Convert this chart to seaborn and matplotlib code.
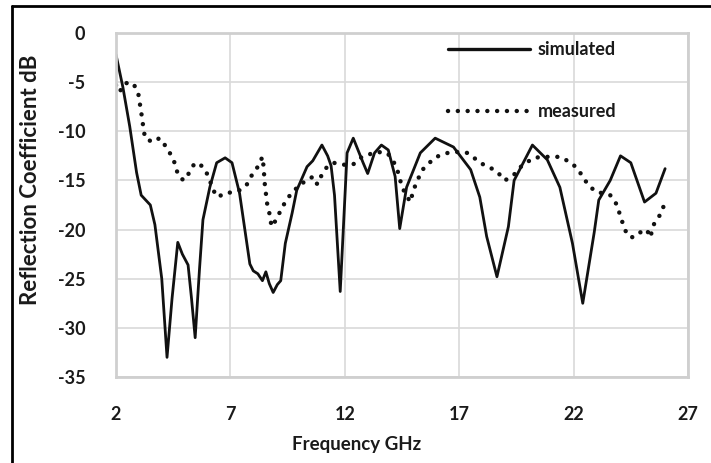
import numpy as np
import pandas as pd
import matplotlib
matplotlib.use("Agg")
import matplotlib.pyplot as plt
from matplotlib.lines import Line2D
import seaborn as sns

# ---- data ----
sim_freq = [2.0, 2.3, 2.6, 2.9, 3.1, 3.3, 3.5, 3.7, 4.0, 4.23, 4.45, 4.7, 4.9, 5.15,
            5.3, 5.46, 5.65, 5.8, 6.1, 6.4, 6.77, 7.07, 7.4, 7.6, 7.85, 8.0, 8.2, 8.4,
            8.55, 8.7, 8.87, 9.05, 9.2, 9.4, 9.7, 9.9, 10.35, 10.6, 11.0, 11.25, 11.4,
            11.55, 11.8, 12.1, 12.37, 12.8, 13.0, 13.3, 13.6, 13.9, 14.2, 14.4, 14.7,
            15.3, 15.95, 16.75, 17.5, 17.9, 18.2, 18.65, 19.15, 19.4, 20.2, 20.85,
            21.4, 21.95, 22.4, 22.9, 23.1, 23.6, 24.05, 24.5, 25.1, 25.6, 26.0]
sim_db = [-2.2, -5.5, -9.5, -14.2, -16.5, -17.0, -17.5, -19.5, -25.0, -33.0, -27.0,
          -21.3, -22.5, -23.6, -27.0, -31.0, -24.0, -19.0, -15.7, -13.2, -12.7, -13.2,
          -16.3, -19.5, -23.5, -24.2, -24.5, -25.2, -24.3, -25.5, -26.4, -25.6, -25.2,
          -21.4, -18.3, -16.0, -13.6, -13.0, -11.4, -12.5, -13.5, -16.5, -26.3, -12.2,
          -10.7, -13.2, -14.3, -12.2, -11.4, -11.9, -14.6, -19.9, -15.7, -12.2, -10.7,
          -11.6, -13.9, -16.7, -20.7, -24.8, -19.7, -15.0, -11.4, -12.9, -15.7, -21.4,
          -27.5, -20.3, -17.0, -15.0, -12.5, -13.2, -17.2, -16.3, -13.8]

meas_freq = [2.0, 2.15, 2.4, 2.75, 2.97, 3.05, 3.13, 3.2, 3.27, 3.6, 3.9, 4.2, 4.4,
             4.6, 4.7, 4.95, 5.15, 5.4, 5.6, 5.9, 6.1, 6.25, 6.45, 6.75, 7.1, 7.4, 7.7,
             7.9, 8.2, 8.4, 8.45, 8.5, 8.6, 8.7, 8.8, 9.0, 9.25, 9.5, 9.8, 10.1, 10.4,
             10.6, 10.8, 11.0, 11.2, 11.5, 11.9, 12.35, 12.75, 13.0, 13.4, 13.85, 14.1,
             14.35, 14.5, 14.86, 15.0, 15.17, 15.4, 15.7, 16.0, 16.5, 16.9, 17.35, 17.6,
             17.9, 18.35, 18.65, 19.0, 19.4, 19.7, 20.0, 20.25, 20.7, 21.1, 21.4, 21.9,
             22.2, 22.45, 22.65, 23.0, 23.3, 23.6, 23.9, 24.05, 24.2, 24.35, 24.6, 24.9,
             25.2, 25.35, 25.5, 25.7, 25.9, 25.95]
meas_db = [-5.3, -6.0, -5.1, -5.1, -6.1, -7.3, -8.5, -9.7, -10.7, -11.1, -10.7, -11.6,
           -12.4, -13.4, -14.4, -15.0, -14.4, -13.4, -13.2, -13.9, -15.0, -16.0, -16.7,
           -16.3, -16.2, -16.0, -15.5, -14.6, -13.6, -12.6, -13.6, -15.3, -17.3, -18.3,
           -19.7, -19.0, -17.8, -16.8, -16.0, -15.3, -15.0, -14.6, -15.4, -14.4, -13.7,
           -13.2, -13.4, -13.4, -12.6, -12.4, -12.1, -12.2, -12.9, -14.3, -15.7, -17.2,
           -16.0, -15.0, -13.9, -13.2, -12.6, -12.2, -12.1, -12.2, -12.6, -13.2, -13.7,
           -14.1, -15.0, -14.4, -13.6, -13.1, -12.7, -12.6, -12.6, -12.6, -13.2, -13.9,
           -14.8, -15.5, -16.2, -16.3, -16.5, -17.5, -18.7, -19.7, -20.6, -20.8, -20.3,
           -20.0, -20.8, -19.5, -18.8, -18.0, -17.3]

x_ticks = [2, 7, 12, 17, 22, 27]
y_ticks = [0, -5, -10, -15, -20, -25, -30, -35]
series_labels = ["simulated", "measured"]

sns.set_theme(style="white")
plt.rcParams["font.family"] = ["Lato", "DejaVu Sans"]
plt.rcParams["font.weight"] = "bold"

fig = plt.figure(figsize=(7.11, 4.63), dpi=100)
ax = fig.add_axes([116 / 711, 1 - 377 / 463, (688 - 116) / 711, (377 - 33) / 463])

sim_df = pd.DataFrame({"freq": sim_freq, "db": sim_db})
meas_df = pd.DataFrame({"freq": meas_freq, "db": meas_db})

sns.lineplot(data=sim_df, x="freq", y="db", ax=ax, color="#111111", lw=2.0,
             sort=False, estimator=None, solid_joinstyle="round")
sns.lineplot(data=meas_df, x="freq", y="db", ax=ax, color="#111111", lw=3.2,
             sort=False, estimator=None, linestyle=(0, (0.01, 2.2)),
             dash_capstyle="round")

ax.set_xlim(2, 27)
ax.set_ylim(-35, 0)
ax.set_xticks(x_ticks)
ax.set_yticks(y_ticks)
ax.set_xticklabels([str(t) for t in x_ticks], fontsize=13, fontweight="bold", color="#1a1a1a")
ax.set_yticklabels([str(t) for t in y_ticks], fontsize=13, fontweight="bold", color="#1a1a1a")
ax.tick_params(axis="x", length=0, pad=21)
ax.tick_params(axis="y", length=0, pad=22)
ax.grid(True, color="#d9d9d9", lw=1.2)
for s in ax.spines.values():
    s.set_color("#cfcfcf")
    s.set_linewidth(2.0)

ax.set_xlabel("Frequency GHz", fontsize=13.5, fontweight="bold", color="#1a1a1a")
ax.set_ylabel("Reflection Coefficient dB", fontsize=16, fontweight="bold", color="#1a1a1a")
ax.xaxis.set_label_coords((357 - 116) / 572, -(436 - 377) / 344)
ax.yaxis.set_label_coords(-(116 - 41) / 572, (377 - 180) / 344)

handles = [Line2D([0], [0], color="#111111", lw=2.4),
           Line2D([0], [0], color="#111111", lw=3.2, linestyle=(0, (0.01, 2.2)),
                  dash_capstyle="round")]
leg = ax.legend(handles, series_labels, loc="upper left",
                bbox_to_anchor=((432 - 116) / 572, 1 + 8 / 344),
                frameon=False, handlelength=4.5, handletextpad=0.45,
                labelspacing=2.5, prop={"family": "Lato", "weight": "bold", "size": 13})
for t in leg.get_texts():
    t.set_color("#1a1a1a")

# outer black frame (left and top edges visible)
fig.add_artist(Line2D([12 / 711, 12 / 711], [0, 1 - 6 / 463], color="black", lw=2.0,
                      transform=fig.transFigure))
fig.add_artist(Line2D([12 / 711, 1], [1 - 6 / 463, 1 - 6 / 463], color="black", lw=2.0,
                      transform=fig.transFigure))

fig.savefig("out.png", dpi=100)
